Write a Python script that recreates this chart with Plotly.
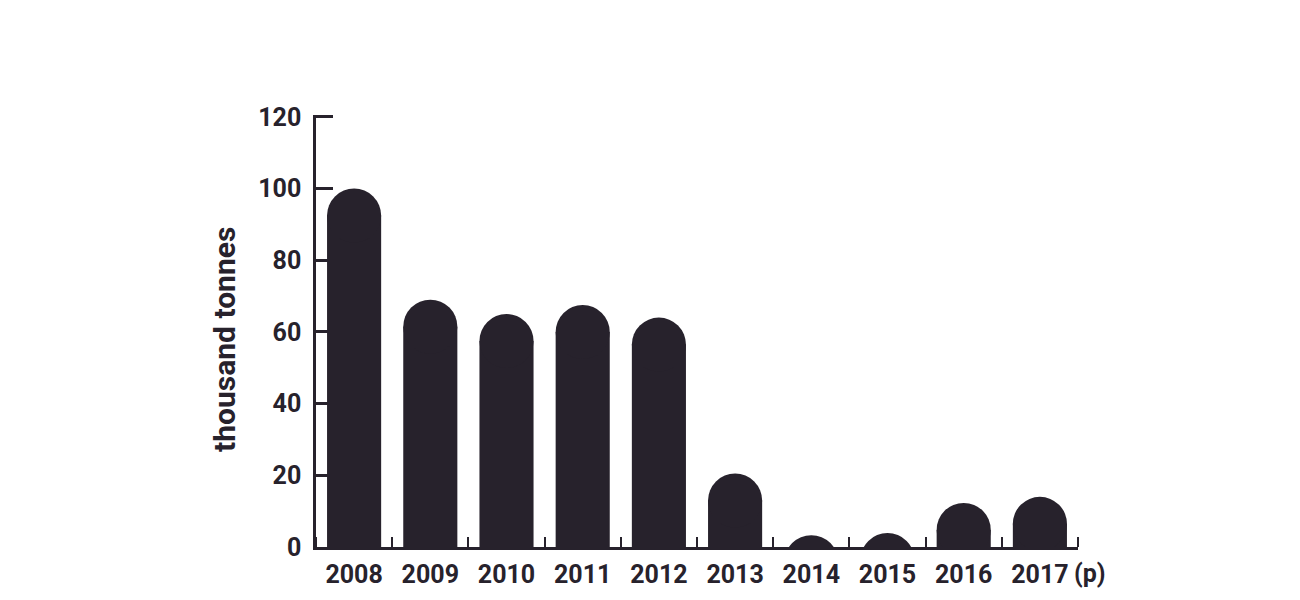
import plotly.graph_objects as go

years = ["2008", "2009", "2010", "2011", "2012", "2013", "2014", "2015", "2016", "2017"]
values = [100, 69, 65, 67.5, 64, 20.5, 3.3, 3.9, 12.3, 14]
y_ticks = [0, 20, 40, 60, 80, 100, 120]
footnote = "(p)"
y_title = "thousand tonnes"

INK = "#27222c"
FONT = "Roboto, Liberation Sans, sans-serif"

W, H = 1300, 600
PAGE_OFF = 8  # default body margin of the html page
px_per_unit = 430 / 120
ymax = 120.5
ml = 316 - PAGE_OFF
plot_w = 762
plot_h = ymax * px_per_unit
mt = 547 - plot_h - PAGE_OFF
mr = W - ml - plot_w
mb = H - mt - plot_h

bar_frac = 0.71
n = len(years)
xs = list(range(n))
bar_px = plot_w / n * bar_frac
r_units = (bar_px / 2) / px_per_unit

body = [max(v - r_units, 0) for v in values]
cap_centers = [v - r_units for v in values]

fig = go.Figure()
fig.add_trace(go.Bar(
    x=xs, y=body, width=bar_frac,
    marker=dict(color=INK, line=dict(width=0)),
    hoverinfo="skip", showlegend=False,
))
fig.add_trace(go.Scatter(
    x=xs, y=cap_centers, mode="markers",
    marker=dict(symbol="circle", size=bar_px, color=INK, line=dict(width=0)),
    cliponaxis=True, hoverinfo="skip", showlegend=False,
))

fig.add_annotation(
    x=xs[-1], y=0, xref="x", yref="y", text="<b>" + footnote + "</b>", showarrow=False,
    xanchor="left", yanchor="middle", xshift=32, yshift=-26,
    font=dict(family=FONT, size=25, color=INK),
)
fig.add_annotation(
    x=0, y=60, xref="paper", yref="y", text="<b>" + y_title + "</b>", showarrow=False,
    textangle=-90, xanchor="center", yanchor="middle", xshift=-91, yshift=-8,
    font=dict(family=FONT, size=30, color=INK),
)

fig.update_layout(
    width=W, height=H,
    margin=dict(l=ml, r=mr, t=mt, b=mb, autoexpand=False),
    plot_bgcolor="white", paper_bgcolor="white",
    font=dict(family=FONT, size=25, color=INK),
    xaxis=dict(
        range=[-0.5, n - 0.5], tickmode="array", tickvals=xs, ticktext=years,
        showline=True, linecolor=INK, linewidth=2.5,
        ticks="", ticklabelstandoff=3,
        minor=dict(tickmode="array", tickvals=[i - 0.5 for i in range(n + 1)],
                   ticks="inside", ticklen=10, tickwidth=2, tickcolor=INK, showgrid=False),
        tickfont=dict(family=FONT, size=25, color=INK, weight="bold"),
        showgrid=False, zeroline=False, automargin=False,
    ),
    yaxis=dict(
        range=[0, ymax], tickmode="array", tickvals=y_ticks,
        showline=True, linecolor=INK, linewidth=2.5,
        ticks="inside", ticklen=17, tickwidth=2.5, tickcolor=INK,
        ticklabelstandoff=7,
        tickfont=dict(family=FONT, size=25, color=INK, weight="bold"),
        showgrid=False, zeroline=False, automargin=False,
    ),
)

fig.write_html("out.html")
